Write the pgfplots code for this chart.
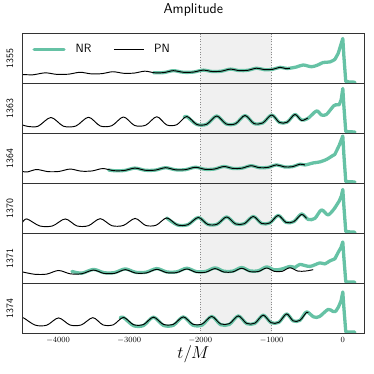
\documentclass[border=0pt]{standalone}
\usepackage{pgfplots}
\pgfplotsset{compat=1.18}
\usepgfplotslibrary{groupplots}
\definecolor{nrc}{HTML}{66C2A5}
\pgfplotsset{
  nr/.style={color=nrc, line width=3.3pt, line cap=round, line join=round},
  pn/.style={color=black, line width=0.95pt, line join=round},
}
\newcommand{\shadeband}{%
  \addplot[forget plot, fill=gray!12, draw=none] coordinates {(-2000,0) (-2000,1) (-1000,1) (-1000,0)};
  \addplot[forget plot, dotted, black!45, line width=0.6pt] coordinates {(-2000,0) (-2000,1)};
  \addplot[forget plot, dotted, black!45, line width=0.6pt] coordinates {(-1000,0) (-1000,1)};
}
\begin{document}
\begin{tikzpicture}
\begin{groupplot}[
  group style={group size=1 by 6, vertical sep=0pt, xticklabels at=edge bottom},
  scale only axis, width=342.5pt, height=50.1pt,
  xmin=-4500, xmax=300, ymin=0, ymax=1,
  xtick={-4000,-3000,-2000,-1000,0}, ytick=\empty,
  /pgf/number format/set thousands separator={},
  major tick length=0pt,
  axis on top,
  axis line style={black!80, line width=0.9pt},
  xticklabel style={font=\footnotesize},
  ylabel style={at={(axis description cs:-0.0365,0.5)}, anchor=center, font=\sffamily\fontsize{9.8}{10}\selectfont},
]
% ---------------- 1355
\nextgroupplot[ylabel={1355},
  title={Amplitude},
  title style={at={(0.5,1)}, anchor=south, yshift=8pt, font=\sffamily\fontsize{14.3}{16}\selectfont},
  legend style={at={(axis description cs:0.02,0.86)}, anchor=north west, draw=none, fill=none,
    font=\sffamily\fontsize{12}{12}\selectfont, legend columns=2,
    /tikz/every odd column/.append style={column sep=8pt},
    /tikz/every even column/.append style={column sep=20pt}},
  legend image code/.code={\draw[#1] (0pt,0pt) -- (30pt,0pt);},
]
\shadeband
\addplot[nr, smooth] coordinates {(-2660,0.215) (-2513,0.218) (-2380,0.256) (-2240,0.224) (-2100,0.228) (-1960,0.267) (-1833,0.239) (-1707,0.245) (-1580,0.287) (-1457,0.258) (-1333,0.264) (-1210,0.306) (-1100,0.276) (-990,0.282) (-880,0.323) (-780,0.3) (-650,0.33) (-557,0.37) (-440,0.335) (-350,0.37) (-276,0.42) (-182,0.43) (-112,0.48)};
\addlegendentry{NR}
\addplot[pn, smooth] coordinates {(-4500,0.18) (-4350,0.174) (-4180,0.213) (-4017,0.182) (-3853,0.186) (-3690,0.224) (-3537,0.193) (-3383,0.197) (-3230,0.235) (-3080,0.204) (-2930,0.208) (-2780,0.246) (-2647,0.215) (-2513,0.218) (-2380,0.256) (-2240,0.224) (-2100,0.228) (-1960,0.267) (-1833,0.239) (-1707,0.245) (-1580,0.287) (-1457,0.258) (-1333,0.264) (-1210,0.306) (-1100,0.276) (-990,0.282) (-880,0.323) (-800,0.296) (-740,0.305)};
\addlegendentry{PN}
\addplot[nr, forget plot] coordinates {(-112,0.48) (-65,0.6) (-28,0.77) (0,0.9) (15,0.55) (42,0.035) (170,0.025)};
% ---------------- 1363
\nextgroupplot[ylabel={1363}]
\shadeband
\addplot[nr, smooth] coordinates {(-2230,0.32) (-2192,0.34) (-2052,0.18) (-1911,0.185) (-1771,0.35) (-1639,0.19) (-1506,0.195) (-1374,0.36) (-1249,0.2) (-1124,0.21) (-999,0.37) (-890,0.22) (-782,0.225) (-673,0.38) (-580,0.27) (-491,0.3) (-369,0.45) (-300,0.37) (-230,0.38) (-130,0.55) (-88,0.575)};
\addplot[pn, smooth] coordinates {(-4500,0.17) (-4420,0.14) (-4280,0.145) (-4100,0.32) (-3924,0.145) (-3748,0.15) (-3572,0.325) (-3408,0.15) (-3245,0.155) (-3081,0.33) (-2925,0.16) (-2769,0.165) (-2613,0.335) (-2473,0.17) (-2332,0.175) (-2192,0.34) (-2052,0.18) (-1911,0.185) (-1771,0.35) (-1639,0.19) (-1506,0.195) (-1374,0.36) (-1249,0.2) (-1124,0.21) (-999,0.37) (-890,0.22) (-782,0.225) (-673,0.38) (-580,0.26) (-491,0.31)};
\addplot[nr, forget plot] coordinates {(-88,0.575) (-50,0.575) (-22,0.68) (0,0.9) (15,0.55) (42,0.035) (170,0.03)};
% ---------------- 1364
\nextgroupplot[ylabel={1364}]
\shadeband
\addplot[nr, smooth] coordinates {(-3291,0.27) (-3220,0.256) (-3070,0.259) (-2920,0.307) (-2777,0.264) (-2633,0.267) (-2490,0.315) (-2350,0.273) (-2210,0.276) (-2070,0.324) (-1937,0.283) (-1803,0.288) (-1670,0.339) (-1543,0.3) (-1417,0.305) (-1290,0.355) (-1170,0.315) (-1050,0.321) (-930,0.371) (-820,0.331) (-710,0.335) (-600,0.385) (-530,0.37) (-416,0.41) (-323,0.43) (-229,0.48) (-150,0.55)};
\addplot[pn, smooth] coordinates {(-4500,0.24) (-4430,0.23) (-4300,0.279) (-4143,0.237) (-3987,0.24) (-3830,0.288) (-3677,0.246) (-3523,0.25) (-3370,0.298) (-3220,0.256) (-3070,0.259) (-2920,0.307) (-2777,0.264) (-2633,0.267) (-2490,0.315) (-2350,0.273) (-2210,0.276) (-2070,0.324) (-1937,0.283) (-1803,0.288) (-1670,0.339) (-1543,0.3) (-1417,0.305) (-1290,0.355) (-1170,0.315) (-1050,0.321) (-930,0.371) (-820,0.331) (-710,0.335) (-600,0.385) (-533,0.37)};
\addplot[nr, forget plot] coordinates {(-150,0.55) (-112,0.58) (-51,0.76) (0,0.95) (15,0.58) (42,0.035) (170,0.03)};
% ---------------- 1370
\nextgroupplot[ylabel={1370}]
\shadeband
\addplot[nr, smooth] coordinates {(-2473,0.31) (-2325,0.17) (-2177,0.175) (-2029,0.32) (-1897,0.18) (-1764,0.185) (-1632,0.33) (-1507,0.19) (-1383,0.195) (-1258,0.34) (-1141,0.2) (-1024,0.21) (-907,0.36) (-798,0.22) (-689,0.235) (-580,0.39) (-486,0.28) (-393,0.3) (-299,0.47) (-206,0.37) (-112,0.51)};
\addplot[pn, smooth] coordinates {(-4500,0.22) (-4437,0.29) (-4258,0.15) (-4078,0.15) (-3899,0.29) (-3735,0.15) (-3572,0.155) (-3408,0.295) (-3244,0.155) (-3081,0.16) (-2917,0.3) (-2769,0.16) (-2621,0.165) (-2473,0.31) (-2325,0.17) (-2177,0.175) (-2029,0.32) (-1897,0.18) (-1764,0.185) (-1632,0.33) (-1507,0.19) (-1383,0.195) (-1258,0.34) (-1141,0.2) (-1024,0.21) (-907,0.36) (-798,0.22) (-689,0.235) (-580,0.38) (-510,0.3)};
\addplot[nr, forget plot] coordinates {(-112,0.51) (-50,0.65) (-20,0.75) (0,0.88) (15,0.55) (42,0.035) (170,0.025)};
% ---------------- 1371
\nextgroupplot[ylabel={1371}]
\shadeband
\addplot[nr, smooth] coordinates {(-3805,0.24) (-3666,0.205) (-3502,0.28) (-3354,0.215) (-3205,0.217) (-3057,0.29) (-2909,0.222) (-2761,0.225) (-2613,0.297) (-2473,0.23) (-2332,0.232) (-2192,0.304) (-2060,0.237) (-1927,0.239) (-1795,0.311) (-1670,0.243) (-1546,0.245) (-1421,0.318) (-1304,0.25) (-1187,0.252) (-1070,0.33) (-961,0.27) (-852,0.29) (-743,0.34) (-670,0.32) (-603,0.38) (-463,0.34) (-323,0.41) (-252,0.39) (-182,0.45) (-112,0.49)};
\addplot[pn, smooth] coordinates {(-4500,0.23) (-4330,0.183) (-4160,0.186) (-3993,0.259) (-3829,0.192) (-3666,0.194) (-3502,0.267) (-3354,0.2) (-3205,0.202) (-3057,0.275) (-2909,0.207) (-2761,0.21) (-2613,0.282) (-2473,0.215) (-2332,0.217) (-2192,0.289) (-2060,0.222) (-1927,0.224) (-1795,0.296) (-1670,0.228) (-1546,0.23) (-1421,0.303) (-1304,0.235) (-1187,0.237) (-1070,0.309) (-961,0.241) (-852,0.242) (-743,0.314) (-630,0.246) (-520,0.248) (-416,0.275)};
\addplot[nr, forget plot] coordinates {(-112,0.49) (-65,0.62) (-25,0.72) (0,0.83) (15,0.52) (42,0.03) (170,0.025)};
% ---------------- 1374
\nextgroupplot[ylabel={1374}, xlabel={$t/M$},
  xlabel style={at={(axis description cs:0.5,0)}, anchor=center, yshift=-21pt, font=\fontsize{16}{18}\selectfont}]
\shadeband
\addplot[nr, smooth] coordinates {(-3128,0.31) (-3081,0.32) (-2941,0.155) (-2800,0.157) (-2660,0.325) (-2520,0.16) (-2380,0.162) (-2240,0.33) (-2107,0.165) (-1975,0.168) (-1842,0.34) (-1717,0.175) (-1593,0.18) (-1468,0.35) (-1351,0.195) (-1235,0.2) (-1118,0.365) (-1009,0.215) (-899,0.22) (-790,0.39) (-697,0.25) (-603,0.26) (-510,0.43) (-410,0.33) (-330,0.335) (-206,0.48) (-140,0.44) (-100,0.44)};
\addplot[pn, smooth] coordinates {(-4500,0.29) (-4484,0.31) (-4320,0.165) (-4157,0.165) (-3993,0.31) (-3832,0.168) (-3672,0.17) (-3511,0.315) (-3368,0.17) (-3224,0.172) (-3081,0.32) (-2941,0.175) (-2800,0.177) (-2660,0.325) (-2520,0.18) (-2380,0.182) (-2240,0.33) (-2107,0.185) (-1975,0.188) (-1842,0.34) (-1717,0.19) (-1593,0.195) (-1468,0.35) (-1351,0.2) (-1235,0.205) (-1118,0.365) (-1009,0.215) (-899,0.22) (-790,0.39) (-697,0.25) (-603,0.26) (-510,0.42) (-487,0.41)};
\addplot[nr, forget plot] coordinates {(-100,0.44) (-60,0.53) (-25,0.65) (0,0.83) (15,0.52) (42,0.03) (170,0.025)};
\end{groupplot}
\path[use as bounding box] ([xshift=-22.5pt,yshift=32.5pt]group c1r1.north west) rectangle ([xshift=9pt,yshift=-40.7pt]group c1r6.south east);
\end{tikzpicture}
\end{document}
